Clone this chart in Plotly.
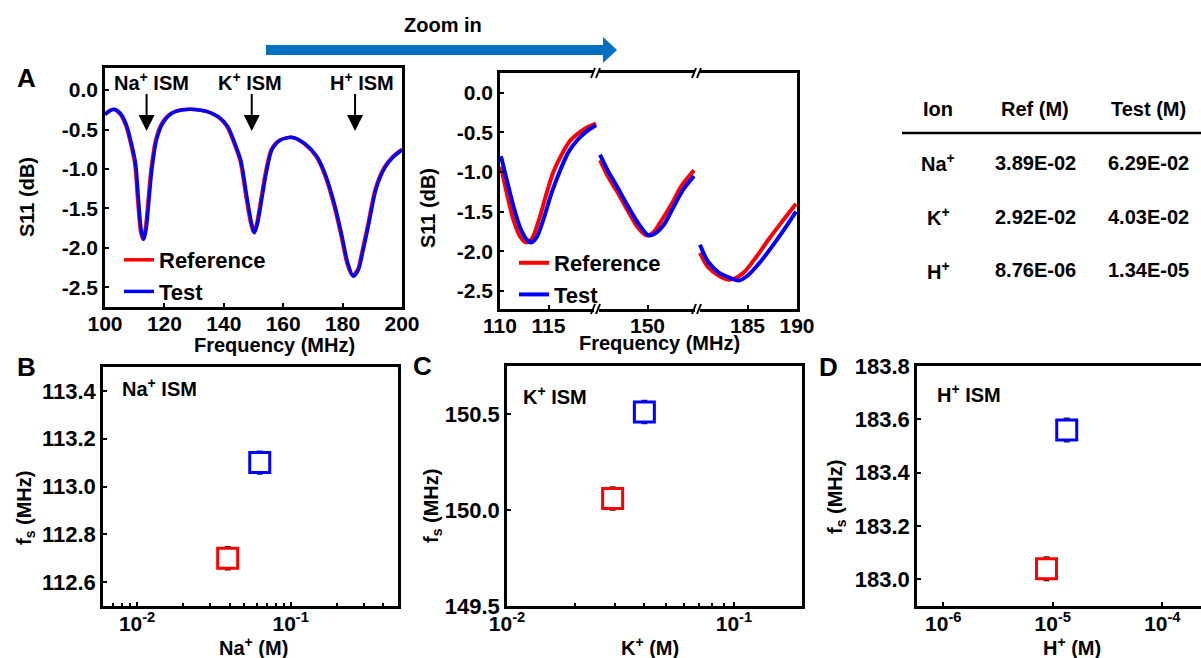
import plotly.graph_objects as go

W, H = 1201, 658


def px(x):
    return x / W


def py(y):
    return 1 - y / H


# ---------------- DATA ----------------
# Panel A: full sweep (MHz, dB)
freq_ref_full = [100, 101.5, 103, 105, 107, 108.5, 110, 111, 112, 112.8, 113.6, 114.5, 115.5, 117, 119, 122,
                 126, 130, 134, 138, 141, 143.5, 145.5, 147.5, 149, 150, 151, 152.5, 154, 156, 159, 163, 167,
                 171, 174, 177, 179.5, 181.5, 183.3, 185, 186.5, 188.5, 191, 194, 197, 200]
s11_ref_full = [-0.30, -0.26, -0.245, -0.30, -0.45, -0.66, -0.93, -1.40, -1.80, -1.89, -1.75, -1.40, -1.00,
                -0.64, -0.43, -0.30, -0.25, -0.245, -0.27, -0.34, -0.46, -0.68, -0.90, -1.36, -1.68, -1.80,
                -1.70, -1.38, -1.05, -0.75, -0.63, -0.60, -0.68, -0.84, -1.08, -1.45, -1.85, -2.20, -2.35,
                -2.28, -2.05, -1.70, -1.25, -0.98, -0.84, -0.75]
freq_test_full = [100, 101.8, 103.3, 105.3, 107.3, 108.8, 110.3, 111.3, 112.3, 113.1, 113.9, 114.8, 115.8,
                  117.3, 119.3, 122.3, 126.3, 130.3, 134.3, 138.3, 141.3, 143.8, 145.8, 147.8, 149.3, 150.3,
                  151.3, 152.8, 154.3, 156.3, 159.3, 163.3, 167.3, 171.3, 174.3, 177.3, 179.8, 181.8, 183.6,
                  185.3, 186.8, 188.8, 191.3, 194.3, 197.3, 200]
s11_test_full = [-0.31, -0.26, -0.245, -0.30, -0.45, -0.66, -0.93, -1.40, -1.80, -1.89, -1.75, -1.40, -1.00,
                 -0.64, -0.43, -0.30, -0.25, -0.245, -0.27, -0.34, -0.46, -0.68, -0.90, -1.36, -1.68, -1.81,
                 -1.70, -1.38, -1.05, -0.75, -0.63, -0.60, -0.68, -0.84, -1.08, -1.45, -1.85, -2.20, -2.36,
                 -2.28, -2.05, -1.70, -1.25, -0.98, -0.84, -0.76]

# Zoomed segments
freq_ref_z1 = [110.1, 110.7, 111.4, 112.1, 112.7, 113.3, 114.0, 114.8, 115.5, 116.4, 117.2, 118.3, 119.1, 119.9]
s11_ref_z1 = [-0.93, -1.27, -1.61, -1.82, -1.89, -1.84, -1.61, -1.27, -1.00, -0.77, -0.61, -0.49, -0.43, -0.39]
freq_test_z1 = [110.1, 110.7, 111.4, 112.1, 112.8, 113.2, 113.8, 114.5, 115.3, 116.2, 117.1, 118.1, 119.0, 119.9]
s11_test_z1 = [-0.80, -1.10, -1.44, -1.71, -1.86, -1.89, -1.82, -1.59, -1.27, -0.98, -0.74, -0.58, -0.48, -0.41]

freq_ref_z2 = [145.3, 146.1, 147.1, 148.1, 149.1, 149.9, 150.6, 151.4, 152.4, 153.4, 154.6]
s11_ref_z2 = [-0.85, -1.06, -1.27, -1.50, -1.71, -1.80, -1.76, -1.61, -1.40, -1.17, -0.98]
freq_test_z2 = [145.3, 146.1, 147.1, 148.1, 149.1, 150.1, 150.7, 151.6, 152.5, 153.5, 154.6]
s11_test_z2 = [-0.78, -0.99, -1.21, -1.44, -1.65, -1.80, -1.78, -1.67, -1.46, -1.23, -1.05]

freq_ref_z3 = [180.2, 181.0, 182.1, 183.1, 183.8, 184.7, 185.9, 187.2, 188.6, 189.9]
s11_ref_z3 = [-2.02, -2.20, -2.31, -2.36, -2.34, -2.26, -2.07, -1.84, -1.61, -1.40]
freq_test_z3 = [180.2, 181.0, 182.1, 183.3, 184.1, 185.0, 186.2, 187.6, 188.9, 189.9]
s11_test_z3 = [-1.92, -2.13, -2.27, -2.34, -2.37, -2.31, -2.15, -1.92, -1.69, -1.50]

# Table / panels B-D
ion_labels = ["Na<sup>+</sup>", "K<sup>+</sup>", "H<sup>+</sup>"]
ref_conc = [3.89e-2, 2.92e-2, 8.76e-6]
test_conc = [6.29e-2, 4.03e-2, 1.34e-5]
fs_ref = [112.70, 150.06, 183.04]
fs_test = [113.10, 150.51, 183.56]
fs_ref_err = [0.048, 0.06, 0.044]
fs_test_err = [0.048, 0.06, 0.044]
table_header = ["Ion", "Ref (M)", "Test (M)"]

# Ticks
a_xticks = [100, 120, 140, 160, 180, 200]
s11_ticks = [0.0, -0.5, -1.0, -1.5, -2.0, -2.5]
s11_ticktext = ["0.0", "-0.5", "-1.0", "-1.5", "-2.0", "-2.5"]
b_yticks = [112.6, 112.8, 113.0, 113.2, 113.4]
c_yticks = [149.5, 150.0, 150.5]
d_yticks = [183.0, 183.2, 183.4, 183.6, 183.8]
b_xticks = [0.01, 0.1]
b_xticktext = ["10<sup>-2</sup>", "10<sup>-1</sup>"]
b_minor = [0.006, 0.007, 0.008, 0.009, 0.02, 0.03, 0.04, 0.05, 0.06, 0.07, 0.08, 0.09, 0.2, 0.3, 0.4, 0.5]
c_xticks = [0.01, 0.1]
c_xticktext = ["10<sup>-2</sup>", "10<sup>-1</sup>"]
c_minor = [0.02, 0.03, 0.04, 0.05, 0.06, 0.07, 0.08, 0.09, 0.2]
d_xticks = [1e-6, 1e-5, 1e-4]
d_xticktext = ["10<sup>-6</sup>", "10<sup>-5</sup>", "10<sup>-4</sup>"]

RED = "#FF0000"
BLUE = "#0000FF"
ARROW_BLUE = "#0070C0"
FONT = "Arial, Liberation Sans, sans-serif"
TICKFONT = dict(family=FONT, size=21, color="black", weight="bold")
TICKFONT_L = dict(family=FONT, size=22, color="black", weight="bold")

fig = go.Figure()

# Panel A curves
fig.add_trace(go.Scatter(x=freq_ref_full, y=s11_ref_full, mode="lines", name="Reference",
                         line=dict(color=RED, width=3.5, shape="spline", smoothing=0.8),
                         xaxis="x", yaxis="y", legend="legend"))
fig.add_trace(go.Scatter(x=freq_test_full, y=s11_test_full, mode="lines", name="Test",
                         line=dict(color=BLUE, width=3.5, shape="spline", smoothing=0.8),
                         xaxis="x", yaxis="y", legend="legend"))

# Zoom panel curves
segs = [
    ("x2", "y2", freq_ref_z1, s11_ref_z1, freq_test_z1, s11_test_z1, True),
    ("x3", "y3", freq_ref_z2, s11_ref_z2, freq_test_z2, s11_test_z2, False),
    ("x4", "y4", freq_ref_z3, s11_ref_z3, freq_test_z3, s11_test_z3, False),
]
for xa, ya, fr, sr, ft, st, show in segs:
    fig.add_trace(go.Scatter(x=fr, y=sr, mode="lines", name="Reference", showlegend=show,
                             line=dict(color=RED, width=4, shape="spline", smoothing=0.8),
                             xaxis=xa, yaxis=ya, legend="legend2"))
    fig.add_trace(go.Scatter(x=ft, y=st, mode="lines", name="Test", showlegend=show,
                             line=dict(color=BLUE, width=4, shape="spline", smoothing=0.8),
                             xaxis=xa, yaxis=ya, legend="legend2"))

# Panels B-D scatter
for i, (xa, ya) in enumerate([("x5", "y5"), ("x6", "y6"), ("x7", "y7")]):
    fig.add_trace(go.Scatter(x=[ref_conc[i]], y=[fs_ref[i]], mode="markers", showlegend=False,
                             marker=dict(symbol="square", size=20, color="white", line=dict(width=3, color=RED)),
                             error_y=dict(type="data", array=[fs_ref_err[i]], color="#222222", thickness=1.5, width=3),
                             xaxis=xa, yaxis=ya))
    fig.add_trace(go.Scatter(x=[test_conc[i]], y=[fs_test[i]], mode="markers", showlegend=False,
                             marker=dict(symbol="square", size=20, color="white", line=dict(width=3, color=BLUE)),
                             error_y=dict(type="data", array=[fs_test_err[i]], color="#222222", thickness=1.5, width=3),
                             xaxis=xa, yaxis=ya))

base_ax = dict(showline=True, linecolor="black", linewidth=2.5, ticks="inside", ticklen=4, tickwidth=2,
               tickcolor="black", showgrid=False, zeroline=False, tickfont=TICKFONT, automargin=False)


def ax(**kw):
    d = dict(base_ax)
    d.update(kw)
    return d


XSTAND = -4

layout = dict(
    width=W, height=H, margin=dict(l=0, r=0, t=0, b=0, autoexpand=False), paper_bgcolor="white",
    plot_bgcolor="white",
    font=dict(family=FONT, color="black", weight="bold"),
    # Panel A
    xaxis=ax(domain=[px(105), px(402)], anchor="y", range=[100, 200], tickvals=a_xticks, mirror=True,
             ticklabelstandoff=XSTAND),
    yaxis=ax(domain=[py(307), py(68)], anchor="x", range=[-2.75, 0.28], tickvals=s11_ticks,
             ticktext=s11_ticktext, mirror=True),
    # Zoom segments
    xaxis2=ax(domain=[px(500), px(597)], anchor="y2", range=[110, 120], tickvals=[110, 115], mirror=True,
              ticklabelstandoff=XSTAND),
    yaxis2=ax(domain=[py(309), py(73)], anchor="x2", range=[-2.73, 0.25], tickvals=s11_ticks,
              ticktext=s11_ticktext),
    xaxis3=ax(domain=[px(597), px(698)], anchor="y3", range=[145, 155], tickvals=[150], mirror=True,
              ticklabelstandoff=XSTAND),
    yaxis3=dict(domain=[py(309), py(73)], anchor="x3", range=[-2.73, 0.25], visible=False, automargin=False),
    xaxis4=ax(domain=[px(698), px(797)], anchor="y4", range=[180, 190], tickvals=[185, 190], mirror=True,
              ticklabelstandoff=XSTAND),
    yaxis4=dict(domain=[py(309), py(73)], anchor="x4", range=[-2.73, 0.25], side="right", showline=True,
                linecolor="black", linewidth=2.5, ticks="", showticklabels=False, showgrid=False,
                zeroline=False, automargin=False),
    # Panel B
    xaxis5=ax(domain=[px(103), px(398)], anchor="y5", type="log", range=[-2.222, -0.301],
              tickvals=b_xticks, ticktext=b_xticktext, mirror=True, ticklabelstandoff=XSTAND + 1,
              minor=dict(tickmode="array", tickvals=b_minor, ticks="inside", ticklen=3, tickwidth=1.5,
                         tickcolor="black", showgrid=False)),
    yaxis5=ax(domain=[py(606), py(367)], anchor="x5", range=[112.5, 113.5], tickvals=b_yticks,
              tickformat=".1f", mirror=True, tickfont=TICKFONT_L),
    # Panel C
    xaxis6=ax(domain=[px(507), px(802)], anchor="y6", type="log", range=[-2.0, -0.70],
              tickvals=c_xticks, ticktext=c_xticktext, mirror=True, ticklabelstandoff=XSTAND + 1,
              minor=dict(tickmode="array", tickvals=c_minor, ticks="inside", ticklen=3, tickwidth=1.5,
                         tickcolor="black", showgrid=False)),
    yaxis6=ax(domain=[py(606), py(366)], anchor="x6", range=[149.5, 150.75], tickvals=c_yticks,
              tickformat=".1f", mirror=True, tickfont=TICKFONT_L),
    # Panel D
    xaxis7=ax(domain=[px(917), 1.0], anchor="y7", type="log", range=[-6.24, -3.647],
              tickvals=d_xticks, ticktext=d_xticktext, mirror=True, ticklabelstandoff=XSTAND + 1),
    yaxis7=ax(domain=[py(606), py(366)], anchor="x7", range=[182.9, 183.8], tickvals=d_yticks,
              tickformat=".1f", mirror=False, tickfont=TICKFONT_L),
    legend=dict(x=px(119), y=py(239), xanchor="left", yanchor="top", bgcolor="rgba(0,0,0,0)",
                font=dict(family=FONT, size=22, color="black", weight="bold"), tracegroupgap=0),
    legend2=dict(x=px(514), y=py(242), xanchor="left", yanchor="top", bgcolor="rgba(0,0,0,0)",
                 font=dict(family=FONT, size=22, color="black", weight="bold"), tracegroupgap=0),
)
fig.update_layout(**layout)

ann = []


def text(x, y, t, size=20, xanchor="center", yanchor="middle", angle=0):
    ann.append(dict(x=px(x), y=py(y), xref="paper", yref="paper", text=t, showarrow=False,
                    xanchor=xanchor, yanchor=yanchor, textangle=angle,
                    font=dict(family=FONT, size=size, color="black", weight="bold")))


# panel letters
text(26, 78, "A", size=26)
text(26, 367, "B", size=26)
text(422, 366, "C", size=26)
text(828, 367, "D", size=26)

# axis titles
text(274, 345, "Frequency (MHz)")
text(27, 197, "S11 (dB)", angle=-90)
text(659, 343, "Frequency (MHz)")
text(428, 208, "S11 (dB)", angle=-90)
text(253, 646, "Na<sup>+</sup> (M)")
text(25, 508, "f<sub>s</sub> (MHz)", angle=-90)
text(650, 646, "K<sup>+</sup> (M)")
text(432, 506, "f<sub>s</sub> (MHz)", angle=-90)
text(1072, 646, "H<sup>+</sup> (M)")
text(836, 497, "f<sub>s</sub> (MHz)", angle=-90)

# ISM labels in B-D
text(120, 387, "Na<sup>+</sup> ISM", xanchor="left")
text(521, 395, "K<sup>+</sup> ISM", xanchor="left")
text(935, 393, "H<sup>+</sup> ISM", xanchor="left")

# Zoom in label
text(443, 25, "Zoom in")

# Panel A ISM labels + arrows (data coords)
for lbl, lx, arx in [("Na<sup>+</sup> ISM", 115.8, 114.0), ("K<sup>+</sup> ISM", 148.8, 149.4),
                     ("H<sup>+</sup> ISM", 186.4, 184.2)]:
    ann.append(dict(x=lx, y=0.11, xref="x", yref="y", text=lbl, showarrow=False, xanchor="center",
                    yanchor="middle", font=dict(family=FONT, size=20, color="black", weight="bold")))
    ann.append(dict(x=arx, y=-0.52, xref="x", yref="y", ax=arx, ay=-0.03, axref="x", ayref="y", text="",
                    showarrow=True, arrowhead=2, arrowsize=1.6, arrowwidth=2, arrowcolor="black"))

# Table
col_x = [938, 1035, 1148]
row_y = [163, 217, 270]
for cx, h in zip(col_x, table_header):
    text(cx, 109, h)
for r, yy in enumerate(row_y):
    text(col_x[0], yy, ion_labels[r])
    text(col_x[1], yy, f"{ref_conc[r]:.2E}")
    text(col_x[2], yy, f"{test_conc[r]:.2E}")

fig.update_layout(annotations=ann)

shapes = []
# table rule
shapes.append(dict(type="line", xref="paper", yref="paper", x0=px(902), x1=px(1201), y0=py(133), y1=py(133),
                   line=dict(color="black", width=2.5)))
# Zoom-in arrow
pts = [(266, 45), (603, 45), (603, 37), (617, 50), (603, 63), (603, 55), (266, 55)]
path = "M " + " L ".join(f"{px(a):.5f},{py(b):.5f}" for a, b in pts) + " Z"
shapes.append(dict(type="path", xref="paper", yref="paper", path=path, fillcolor=ARROW_BLUE,
                   line=dict(width=0)))
# axis break marks
for bx in [597, 698]:
    for by in [73, 309]:
        shapes.append(dict(type="rect", xref="paper", yref="paper", x0=px(bx - 3), x1=px(bx + 2),
                           y0=py(by + 3), y1=py(by - 3), fillcolor="white", line=dict(width=0),
                           layer="above"))
        for off in [-4, 1]:
            shapes.append(dict(type="line", xref="paper", yref="paper", x0=px(bx + off - 2), y0=py(by + 5),
                               x1=px(bx + off + 2), y1=py(by - 5), line=dict(color="black", width=2),
                               layer="above"))
fig.update_layout(shapes=shapes)

fig.write_html("out.html")
